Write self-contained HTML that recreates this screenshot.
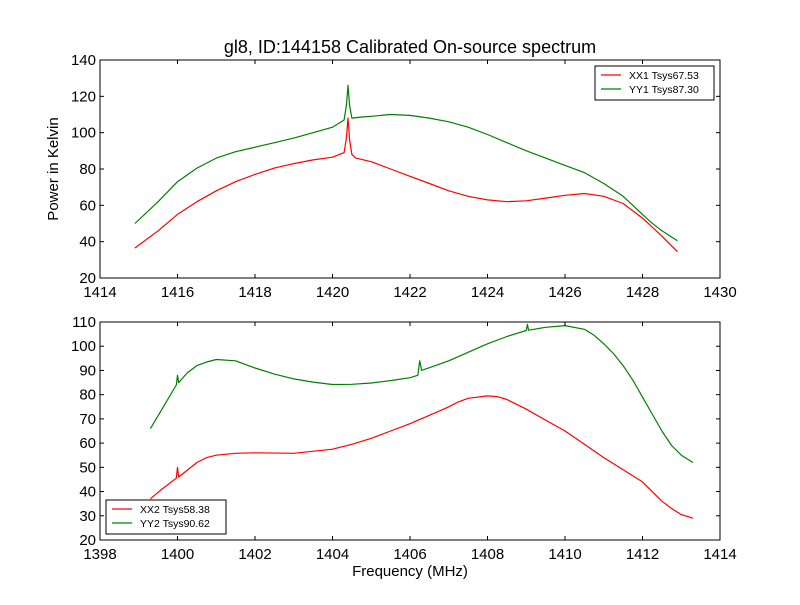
<!DOCTYPE html>
<html><head><meta charset="utf-8"><style>
body{margin:0;background:#fff;font-family:"Liberation Sans","DejaVu Sans",sans-serif}
</style></head><body>
<svg id="c" width="800" height="600" xmlns="http://www.w3.org/2000/svg" font-family="Liberation Sans, DejaVu Sans, sans-serif">
<rect width="800" height="600" fill="#fff"/>
</svg>
<script>
const topX1 = [1414.9,1415.5,1416,1416.5,1417,1417.5,1418,1418.5,1419,1419.5,1420,1420.3,1420.36,1420.4,1420.44,1420.5,1420.6,1421,1421.5,1422,1422.5,1423,1423.5,1424,1424.5,1425,1425.5,1426,1426.5,1427,1427.5,1428,1428.2,1428.5,1428.9];
const topXX1 = [36.5,46,55,62,68,73,77,80.5,83,85,86.5,89,97,108,96,88,86,84,80,76,72,68,65,63,62,62.5,64,65.5,66.5,65,61,53,49,43,34.5];
const topX2 = [1414.9,1415.5,1416,1416.5,1417,1417.5,1418,1418.5,1419,1419.5,1420,1420.3,1420.36,1420.4,1420.44,1420.5,1420.8,1421,1421.5,1422,1422.5,1423,1423.5,1424,1424.5,1425,1425.5,1426,1426.5,1427,1427.5,1428,1428.2,1428.5,1428.9];
const topYY1 = [50,62,73,80.5,86,89.5,92,94.5,97,100,103,107,115,126,115,108,108.7,109,110,109.5,108,106,103,99,94.5,90,86,82,78,72,65,55,51,46,40.5];
const botX1 = [1399.3,1399.6,1399.97,1400,1400.03,1400.5,1400.75,1401,1401.5,1402,1403,1404,1404.5,1405,1405.5,1406,1406.5,1407,1407.25,1407.5,1408,1408.25,1408.5,1409,1409.5,1410,1410.5,1411,1411.5,1412,1412.5,1412.75,1413,1413.3];
const botXX2 = [37,41,45.5,50,46,52,54,55,55.8,56,55.8,57.5,59.5,62,65,68,71.5,75,77,78.5,79.5,79.2,78,74,69.5,65,59.5,54,49,44,36,33,30.5,29];
const botX2 = [1399.3,1399.6,1399.97,1400,1400.03,1400.25,1400.5,1400.75,1401,1401.5,1402,1402.5,1403,1403.5,1404,1404.5,1405,1405.5,1406,1406.2,1406.25,1406.3,1407,1407.5,1408,1408.5,1409,1409.03,1409.06,1409.5,1410,1410.5,1410.75,1411,1411.25,1411.5,1411.75,1412,1412.25,1412.5,1412.75,1413,1413.3];
const botYY2 = [66,74,84,88,85,89,92,93.5,94.5,94,91,88.5,86.5,85.2,84.2,84.3,84.8,85.8,87,88,94,90,94,97.5,101,104,106.5,109,106.6,107.8,108.5,107,104.5,101,97,92,86,79,72,65,59,55,52];
const topXTicks = [1414,1416,1418,1420,1422,1424,1426,1428,1430];
const topYTicks = [20,40,60,80,100,120,140];
const botXTicks = [1398,1400,1402,1404,1406,1408,1410,1412,1414];
const botYTicks = [20,30,40,50,60,70,80,90,100,110];

const svg = document.getElementById('c');
const NS = 'http://www.w3.org/2000/svg';
function mk(tag, attrs, parent){const e=document.createElementNS(NS,tag);for(const k in attrs)e.setAttribute(k,attrs[k]);(parent||svg).appendChild(e);return e;}

function panel(name, x0,x1,y0,y1, xmin,xmax,ymin,ymax, xt, yt, series){
  const g = mk('g',{});
  
  
  const sx = v => x0 + (v-xmin)/(xmax-xmin)*(x1-x0);
  const sy = v => y1 - (v-ymin)/(ymax-ymin)*(y1-y0);
  series.forEach(s=>{
    const pts = s.x.map((v,i)=>sx(v).toFixed(1)+','+sy(s.y[i]).toFixed(1)).join(' ');
    const p = mk('polyline',{points:pts,fill:'none',stroke:s.c,'stroke-width':1.2,'stroke-linejoin':'round'},g);
    
    
  });
  mk('rect',{x:x0,y:y0,width:x1-x0,height:y1-y0,fill:'none',stroke:'#000','stroke-width':1},g);
  xt.forEach(v=>{
    const x=sx(v);
    mk('line',{x1:x,x2:x,y1:y1,y2:y1-4,stroke:'#000'},g);
    mk('line',{x1:x,x2:x,y1:y0,y2:y0+4,stroke:'#000'},g);
    const t=mk('text',{x:x,y:y1+19,'text-anchor':'middle','font-size':15},g);
    t.textContent=v;
    
    
  });
  yt.forEach(v=>{
    const y=sy(v);
    mk('line',{x1:x0,x2:x0+4,y1:y,y2:y,stroke:'#000'},g);
    mk('line',{x1:x1,x2:x1-4,y1:y,y2:y,stroke:'#000'},g);
    const t=mk('text',{x:x0-4,y:y+5,'text-anchor':'end','font-size':15},g);
    t.textContent=v;
    
    
  });
}
panel('top-panel',100,720,60,278,1414,1430,20,140,topXTicks,topYTicks,[
  {x:topX1,y:topXX1,c:'#ff0000',n:'xx1-line'},{x:topX2,y:topYY1,c:'#008000',n:'yy1-line'}]);
panel('bottom-panel',100,720,322,540,1398,1414,20,110,botXTicks,botYTicks,[
  {x:botX1,y:botXX2,c:'#ff0000',n:'xx2-line'},{x:botX2,y:botYY2,c:'#008000',n:'yy2-line'}]);

function legend(name,x,y,w,items){
  const g=mk('g',{});
  
  
  mk('rect',{x:x,y:y,width:w,height:34,fill:'#fff',stroke:'#000'},g);
  items.forEach((it,i)=>{
    const yy=y+9+i*14;
    mk('line',{x1:x+6,x2:x+26,y1:yy,y2:yy,stroke:it[1],'stroke-width':1.2},g);
    const t=mk('text',{x:x+34,y:yy+4,'font-size':10.5},g);
    t.textContent=it[0];
    
    
  });
}
legend('top-legend',595,66,119,[['XX1 Tsys67.53','#ff0000'],['YY1 Tsys87.30','#008000']]);
legend('bottom-legend',106,500,120,[['XX2 Tsys58.38','#ff0000'],['YY2 Tsys90.62','#008000']]);

let t=mk('text',{x:410,y:53,'text-anchor':'middle','font-size':18});
t.textContent='gl8, ID:144158 Calibrated On-source spectrum';


t=mk('text',{x:0,y:0,'text-anchor':'middle','font-size':15,transform:'translate(58,169) rotate(-90)'});
t.textContent='Power in Kelvin';


t=mk('text',{x:410,y:576,'text-anchor':'middle','font-size':15});
t.textContent='Frequency (MHz)';


</script>
</body></html>
